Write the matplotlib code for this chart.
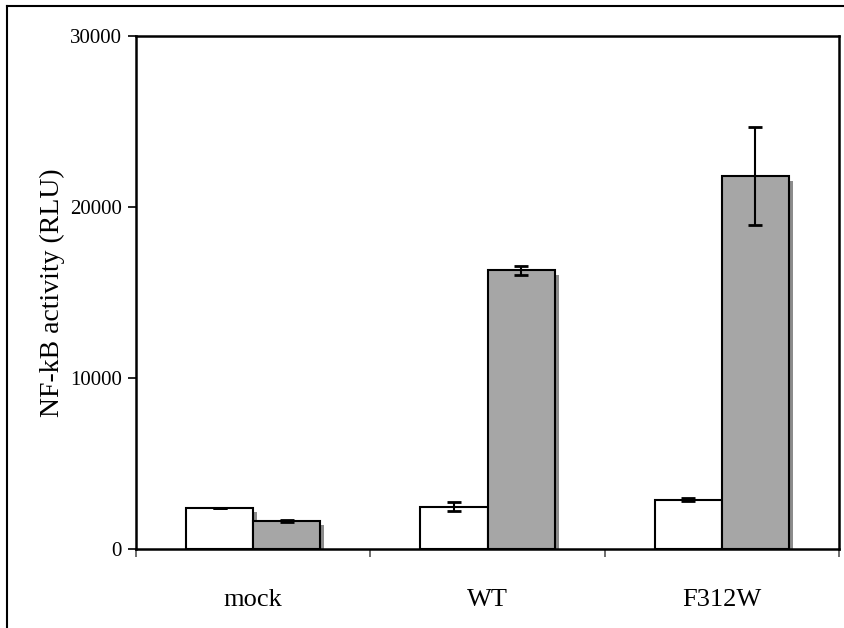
import matplotlib.pyplot as plt
import matplotlib.patheffects as pe
from matplotlib.lines import Line2D
import numpy as np

groups = ["mock", "WT", "F312W"]
control = [2400, 2460, 2890]
control_err = [20, 260, 100]
stimulated = [1660, 16290, 21790]
stimulated_err = [60, 270, 2870]
y_ticks = [0, 10000, 20000, 30000]

plt.rcParams["font.family"] = ["Liberation Serif", "DejaVu Serif"]

W, H = 844, 628
fig = plt.figure(figsize=(W / 100, H / 100), dpi=100)
ax = fig.add_axes([136 / W, 79 / H, 703 / W, 513 / H])

x = np.arange(len(groups)) + 0.5
width = 0.286
shadow = [pe.SimplePatchShadow(offset=(3, -3), shadow_rgbFace="#8c8c8c", alpha=1.0), pe.Normal()]

ax.bar(x - width / 2, control, width, color="white", edgecolor="black",
       linewidth=1.5, path_effects=shadow, zorder=2)
ax.bar(x + width / 2, stimulated, width, color="#a6a6a6", edgecolor="black",
       linewidth=1.5, path_effects=shadow, zorder=2)

ax.errorbar(x - width / 2, control, yerr=control_err, fmt="none", ecolor="black",
            elinewidth=1.5, capsize=5, capthick=2, zorder=3)
ax.errorbar(x + width / 2, stimulated, yerr=stimulated_err, fmt="none", ecolor="black",
            elinewidth=1.5, capsize=5, capthick=2, zorder=3)

ax.set_xlim(0, len(groups))
ax.set_ylim(0, 30000)
ax.set_yticks(y_ticks)
ax.set_xticks(np.arange(len(groups) + 1))
ax.set_xticklabels([])
ax.set_xticks(x, minor=True)
ax.set_xticklabels(groups, minor=True, fontsize=19)
ax.tick_params(axis="x", which="minor", length=0, pad=29)
ax.tick_params(axis="x", which="major", direction="out", length=6, width=1.2, color="#555555")
ax.tick_params(axis="y", direction="out", length=6, width=1.2, labelsize=15, pad=4)
ax.set_ylabel("NF-kB activity (RLU)", fontsize=20, labelpad=4)

for s in ax.spines.values():
    s.set_linewidth(1.8)
    s.set_zorder(4)

# outer frame (only left and top edges are visible)
fig.add_artist(Line2D([7 / W, 7 / W], [0, 1 - 6 / H], transform=fig.transFigure,
                      color="black", linewidth=1.5))
fig.add_artist(Line2D([7 / W, 1], [1 - 6 / H, 1 - 6 / H], transform=fig.transFigure,
                      color="black", linewidth=1.5))

fig.savefig("out.png", dpi=100)
